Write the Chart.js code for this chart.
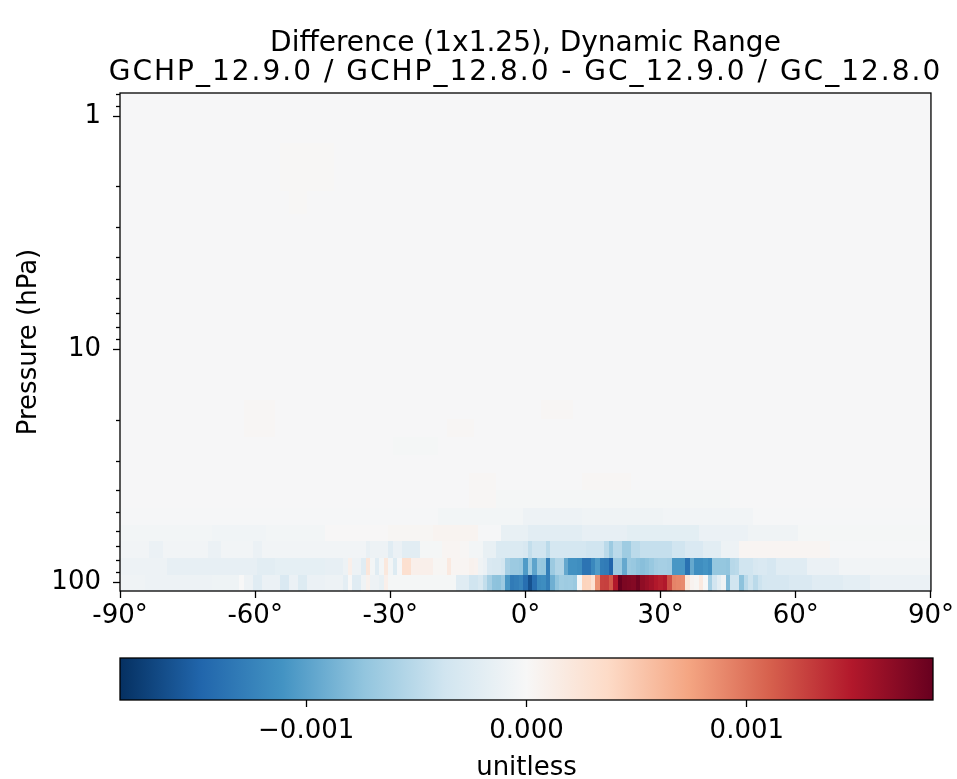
<!DOCTYPE html>
<html>
<head>
<meta charset="utf-8">
<script src="https://cdn.jsdelivr.net/npm/chart.js@4.4.0/dist/chart.umd.min.js"></script>
<style>
  body { margin: 0; background: #fff; }
  #wrap { position: relative; width: 957px; height: 779px; overflow: hidden; }
  #main { position: absolute; left: 0; top: 0; }
  #cbar { position: absolute; left: 0; top: 640px; }
</style>
</head>
<body>
<div id="wrap">
  <canvas id="main" width="957" height="640"></canvas>
  <canvas id="cbar" width="957" height="144"></canvas>
</div>
<script>
// ---- data (values in units of 1e-3, unitless) ----
const titleLines = ['Difference (1x1.25), Dynamic Range', 'GCHP_12.9.0 / GCHP_12.8.0 - GC_12.9.0 / GC_12.8.0'];
const xTicks = [-90, -60, -30, 0, 30, 60, 90];
const yMajor = [1, 10, 100];
const yMinor = [0.8, 0.9, 2, 3, 4, 5, 6, 7, 8, 9, 20, 30, 40, 50, 60, 70, 80, 90];
const cbarTicks = [-0.001, 0, 0.001];
const cbarLabels = ['\u22120.001', '0.000', '0.001'];
const vLimit = 0.001845;

// pressure level edges (hPa), bottom to top
const levelEdges = [108.663, 92.366, 78.512, 66.603, 56.388, 47.644, 40.175, 33.81, 28.368, 23.719,
  19.791, 16.457, 13.643, 11.277, 9.293, 7.62, 6.217, 5.047, 4.077, 3.276, 2.62, 2.085, 1.651, 1.301, 1.019, 0.795];

// each row: [latFrom, latTo, value] with 1 degree cells centred on integer latitudes
const row0 = [[-90,-85,-0.08],[-84,-70,-0.10],[-69,-64,-0.09],[-63,-63,0.0],[-62,-61,-0.10],[-60,-59,-0.22],
  [-58,-55,-0.12],[-54,-53,-0.28],[-52,-51,-0.12],[-50,-49,-0.25],[-48,-45,-0.12],[-44,-41,-0.10],[-40,-40,-0.18],
  [-39,-39,0.0],[-38,-37,-0.22],[-36,-36,-0.08],[-35,-35,0.08],[-34,-33,-0.10],[-32,-32,-0.15],[-31,-31,0.10],
  [-30,-16,-0.03],[-15,-13,-0.22],[-12,-11,-0.37],[-10,-10,-0.30],[-9,-9,-0.45],[-8,-8,-0.62],[-7,-7,-0.75],
  [-6,-6,-0.76],[-5,-5,-0.68],[-4,-4,-1.08],[-3,-3,-1.30],[-2,-2,-1.27],[-1,-1,-1.22],[0,0,-1.40],[1,1,-1.62],
  [2,2,-1.40],[3,3,-1.18],[4,4,-1.16],[5,5,-1.28],[6,6,-0.90],[7,7,-0.74],[8,8,-0.65],[9,9,-0.67],[10,10,-0.66],
  [11,11,-0.69],[12,12,-0.02],[13,13,0.42],[14,14,0.41],[15,15,0.28],[16,16,0.85],[17,17,1.26],[18,18,1.27],
  [19,19,1.14],[20,20,1.48],[21,21,1.84],[22,22,1.74],[23,23,1.72],[24,24,1.70],[25,25,1.79],[26,26,1.65],
  [27,27,1.60],[28,28,1.55],[29,29,1.48],[30,30,1.44],[31,31,1.48],[32,32,1.20],[33,33,0.92],[34,34,0.90],
  [35,35,0.88],[36,36,0.22],[37,37,0.06],[38,38,0.03],[39,39,0.18],[40,40,0.0],[41,41,-0.62],[42,42,-0.36],
  [43,43,-0.20],[44,44,-0.08],[45,45,-0.82],[46,47,-0.37],[48,48,-0.76],[49,49,-0.50],[50,50,-0.38],[51,51,-0.50],
  [52,52,-0.39],[53,53,-0.33],[54,58,-0.32],[59,63,-0.28],[64,70,-0.22],[71,76,-0.18],[77,90,-0.12]];
const row1 = [[-90,-80,-0.10],[-79,-60,-0.16],[-59,-56,-0.20],[-55,-45,-0.17],[-44,-41,-0.16],[-40,-40,-0.10],
  [-39,-39,0.10],[-38,-37,-0.10],[-36,-36,-0.22],[-35,-35,0.22],[-34,-34,-0.05],[-33,-33,-0.22],[-32,-32,-0.05],
  [-31,-31,0.20],[-30,-30,-0.05],[-29,-29,-0.25],[-28,-28,-0.02],[-27,-26,0.30],[-25,-21,0.10],[-20,-18,0.03],
  [-17,-17,0.18],[-16,-13,0.04],[-12,-12,0.08],[-11,-11,0.06],[-10,-10,-0.08],[-9,-9,-0.12],[-8,-8,-0.28],
  [-7,-6,-0.30],[-5,-5,-0.35],[-4,-4,-0.62],[-3,-2,-0.68],[-1,-1,-0.70],[0,0,-1.05],[1,1,-0.66],[2,2,-0.98],
  [3,3,-0.70],[4,4,-0.72],[5,5,-1.28],[6,6,-0.68],[7,8,-0.55],[9,9,-0.95],[10,11,-1.12],[12,12,-1.15],
  [13,14,-1.36],[15,15,-1.20],[16,16,-1.05],[17,17,-1.28],[18,18,-1.30],[19,19,-1.48],[20,21,-0.68],[22,22,-0.95],
  [23,23,-0.68],[24,24,-0.70],[25,25,-0.75],[26,26,-0.78],[27,27,-0.75],[28,28,-0.70],[29,29,-0.64],[30,31,-0.62],
  [32,32,-0.64],[33,35,-1.08],[36,36,-1.38],[37,37,-0.95],[38,39,-1.15],[40,40,-1.10],[41,41,-1.16],[42,44,-0.72],
  [45,45,-0.74],[46,46,-0.52],[47,47,-0.50],[48,50,-0.37],[51,51,-0.30],[52,53,-0.28],[54,55,-0.32],[56,62,-0.22],
  [63,69,-0.12],[70,90,-0.06]];
const row2 = [[-90,-84,-0.06],[-83,-81,-0.12],[-80,-71,-0.06],[-70,-68,-0.12],[-67,-61,-0.06],[-60,-59,-0.12],
  [-58,-36,-0.06],[-35,-35,-0.14],[-34,-31,-0.10],[-30,-30,-0.22],[-29,-28,-0.12],[-27,-24,-0.20],[-23,-19,-0.03],
  [-18,-15,0.04],[-14,-13,0.02],[-12,-10,-0.05],[-9,-7,-0.15],[-6,-1,-0.27],[0,0,-0.30],[1,1,-0.45],[2,4,-0.37],
  [5,5,-0.50],[6,13,-0.33],[14,17,-0.37],[18,18,-0.50],[19,19,-0.68],[20,21,-0.50],[22,23,-0.66],[24,25,-0.50],
  [26,32,-0.44],[33,35,-0.37],[36,39,-0.28],[40,43,-0.20],[44,47,-0.10],[48,67,0.04],[68,90,-0.02]];
const row3 = [[-90,-70,-0.05],[-69,-58,-0.07],[-57,-45,-0.05],[-44,-31,0.01],[-30,-21,0.03],[-20,-11,0.05],
  [-10,-6,-0.02],[-5,0,-0.15],[1,12,-0.20],[13,22,-0.16],[23,38,-0.19],[39,49,-0.12],[50,60,-0.08],[61,90,-0.03]];
const row4 = [[-90,-20,-0.02],[-19,-1,-0.05],[0,12,-0.10],[13,30,-0.08],[31,50,-0.06],[51,90,-0.02]];
const row5 = [[-90,-13,-0.012],[-12,-7,0.02],[-6,45,-0.03],[46,90,-0.012]];
const row6 = [[-90,-13,-0.012],[-12,-7,0.025],[-6,12,-0.012],[13,23,0.02],[24,90,-0.012]];
const row8 = [[-90,-30,-0.012],[-29,-20,-0.03],[-19,90,-0.012]];
const row9 = [[-90,-63,-0.012],[-62,-56,0.02],[-55,-18,-0.012],[-17,-12,0.025],[-11,90,-0.012]];
const row10 = [[-90,-63,-0.012],[-62,-56,0.02],[-55,3,-0.012],[4,10,0.02],[11,90,-0.012]];
const row20 = [[-90,-53,-0.012],[-52,-49,0.015],[-48,90,-0.012]];
const row21 = [[-90,-55,-0.012],[-54,-43,0.015],[-42,90,-0.012]];
const quietRow = [[-90,90,-0.012]];
const rows = [row0, row1, row2, row3, row4, row5, row6, quietRow, row8, row9, row10,
  quietRow, quietRow, quietRow, quietRow, quietRow, quietRow, quietRow, quietRow, quietRow,
  row20, row21, row21, quietRow, quietRow];

// ---- colour map (RdBu_r) ----
const rdbuR = ['#053061','#2166ac','#4393c3','#92c5de','#d1e5f0','#f7f7f7','#fddbc7','#f4a582','#d6604d','#b2182b','#67001f'];
const hex = h => [1, 3, 5].map(i => parseInt(h.slice(i, i + 2), 16));
const rdbuRgb = rdbuR.map(hex);
const colorFor = v => {
  let t = (v * 1e-3 + vLimit) / (2 * vLimit);
  t = Math.min(1, Math.max(0, t)) * 10;
  const i = Math.min(9, Math.floor(t));
  const f = t - i;
  const a = rdbuRgb[i], b = rdbuRgb[i + 1];
  const c = a.map((x, k) => Math.round(x + (b[k] - x) * f));
  return `rgb(${c[0]},${c[1]},${c[2]})`;
};

const FONT = 'DejaVu Sans';
const tickFont = { family: FONT, size: 26 };

const heatmap = {
  id: 'heatmap',
  beforeDatasetsDraw(chart) {
    const { ctx, chartArea, scales: { x, y } } = chart;
    ctx.save();
    ctx.beginPath();
    ctx.rect(chartArea.left, chartArea.top, chartArea.width, chartArea.height);
    ctx.clip();
    rows.forEach((segs, r) => {
      const yA = Math.round(y.getPixelForValue(levelEdges[r]));
      const yB = Math.round(y.getPixelForValue(levelEdges[r + 1]));
      segs.forEach(([a, b, v]) => {
        const xA = Math.round(x.getPixelForValue(Math.max(-90, a - 0.5)));
        const xB = Math.round(x.getPixelForValue(Math.min(90, b + 0.5)));
        ctx.fillStyle = colorFor(v);
        ctx.fillRect(xA, Math.min(yA, yB), xB - xA, Math.abs(yB - yA));
      });
    });
    ctx.restore();
  },
  afterDraw(chart) {
    const { ctx, chartArea, scales: { y } } = chart;
    ctx.save();
    ctx.strokeStyle = '#000';
    ctx.lineWidth = 1.3;
    yMinor.forEach(v => {
      const py = Math.round(y.getPixelForValue(v)) + 0.5;
      if (py < chartArea.top || py > chartArea.bottom) return;
      ctx.beginPath();
      ctx.moveTo(chartArea.left - 4, py);
      ctx.lineTo(chartArea.left, py);
      ctx.stroke();
    });
    ctx.strokeRect(chartArea.left, chartArea.top, chartArea.width, chartArea.height);

    // two-line title centred over the plot
    const cx = (chartArea.left + chartArea.right) / 2;
    ctx.fillStyle = '#000';
    ctx.textAlign = 'center';
    ctx.textBaseline = 'middle';
    ctx.font = `28px "${FONT}"`;
    ctx.fillText(titleLines[0], cx, 44);
    ctx.letterSpacing = '2px';
    ctx.fillText(titleLines[1], cx, 73);
    ctx.restore();
  }
};

new Chart(document.getElementById('main'), {
  type: 'scatter',
  data: { datasets: [{ data: [], pointRadius: 0 }] },
  options: {
    responsive: false,
    animation: false,
    layout: { padding: { left: 0, right: 24, top: 93, bottom: 0 } },
    plugins: {
      legend: { display: false },
      tooltip: { enabled: false },
      title: { display: false }
    },
    scales: {
      x: {
        type: 'linear', min: -90, max: 90,
        afterBuildTicks: s => { s.ticks = xTicks.map(v => ({ value: v })); },
        afterFit: s => { s.height = 49; },
        ticks: { callback: v => v + '\u00b0', color: '#000', font: tickFont, padding: 3, autoSkip: false, maxRotation: 0 },
        grid: { drawOnChartArea: false, drawTicks: true, tickLength: 7, tickColor: '#000', tickWidth: 1.3 },
        border: { display: false }
      },
      y: {
        type: 'logarithmic', reverse: true,
        min: levelEdges[levelEdges.length - 1], max: levelEdges[0],
        afterBuildTicks: s => { s.ticks = yMajor.map(v => ({ value: v })); },
        afterFit: s => { s.width = 120; },
        ticks: { callback: v => String(v), color: '#000', font: tickFont, padding: 12, autoSkip: false },
        grid: { drawOnChartArea: false, drawTicks: true, tickLength: 7, tickColor: '#000', tickWidth: 1.3 },
        border: { display: false },
        title: { display: true, text: 'Pressure (hPa)', color: '#000', font: tickFont, padding: { top: 14, bottom: 0 } }
      }
    }
  },
  plugins: [heatmap]
});

// ---- colour bar ----
const colorbar = {
  id: 'colorbar',
  beforeDatasetsDraw(chart) {
    const { ctx, chartArea, scales: { x } } = chart;
    const x0 = x.getPixelForValue(-vLimit), x1 = x.getPixelForValue(vLimit);
    const g = ctx.createLinearGradient(x0, 0, x1, 0);
    rdbuR.forEach((c, i) => g.addColorStop(i / 10, c));
    ctx.save();
    ctx.fillStyle = g;
    ctx.fillRect(x0, chartArea.top, x1 - x0, chartArea.height);
    ctx.strokeStyle = '#000';
    ctx.lineWidth = 1.3;
    ctx.strokeRect(x0, chartArea.top, x1 - x0, chartArea.height);
    ctx.restore();
  }
};

new Chart(document.getElementById('cbar'), {
  type: 'scatter',
  data: { datasets: [{ data: [], pointRadius: 0 }] },
  options: {
    responsive: false,
    animation: false,
    layout: { padding: { left: 120, right: 24, top: 18, bottom: 0 } },
    plugins: { legend: { display: false }, tooltip: { enabled: false } },
    scales: {
      x: {
        type: 'linear', min: -vLimit, max: vLimit,
        afterBuildTicks: s => { s.ticks = cbarTicks.map(v => ({ value: v })); },
        afterFit: s => { s.height = 84; },
        ticks: { callback: (v, i) => cbarLabels[i], color: '#000', font: tickFont, padding: 9, autoSkip: false, maxRotation: 0 },
        grid: { drawOnChartArea: false, drawTicks: true, tickLength: 7, tickColor: '#000', tickWidth: 1.3 },
        border: { display: false },
        title: { display: true, text: 'unitless', color: '#000', font: tickFont, padding: { top: 0, bottom: 0 } }
      },
      y: { display: false, min: 0, max: 1 }
    }
  },
  plugins: [colorbar]
});
</script>
</body>
</html>
